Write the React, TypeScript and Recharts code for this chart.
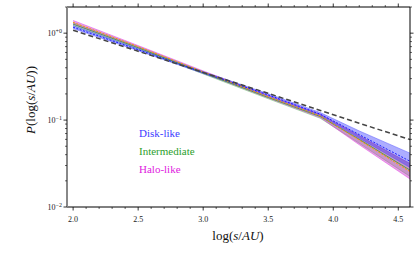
import React from 'react';
import { ComposedChart, Area, Line, XAxis, YAxis } from 'recharts';

// log10(s/AU) sample positions
const logS = [2.0, 2.5, 3.0, 3.5, 3.9, 4.2, 4.6];
// reference power law (black dashed)
const powerLaw = [1.08, 0.62, 0.353, 0.203, 0.129, 0.092, 0.059];
// Disk-like
const diskMid = [1.17, 0.645, 0.352, 0.195, 0.117, 0.068, 0.033];
const diskLo = [1.13, 0.628, 0.343, 0.189, 0.112, 0.062, 0.028];
const diskHi = [1.22, 0.662, 0.361, 0.201, 0.122, 0.075, 0.041];
// Intermediate
const interMid = [1.27, 0.68, 0.35, 0.182, 0.11, 0.06, 0.026];
const interLo = [1.22, 0.66, 0.34, 0.176, 0.105, 0.054, 0.022];
const interHi = [1.32, 0.7, 0.36, 0.188, 0.115, 0.066, 0.031];
// Halo-like
const haloMid = [1.33, 0.7, 0.358, 0.186, 0.112, 0.059, 0.025];
const haloLo = [1.27, 0.68, 0.348, 0.18, 0.107, 0.052, 0.0205];
const haloHi = [1.4, 0.72, 0.368, 0.192, 0.117, 0.066, 0.031];

const xMajor = [2.0, 2.5, 3.0, 3.5, 4.0, 4.5];
const xMinor = [2.1, 2.2, 2.3, 2.4, 2.6, 2.7, 2.8, 2.9, 3.1, 3.2, 3.3, 3.4, 3.6, 3.7, 3.8, 3.9, 4.1, 4.2, 4.3, 4.4];
const yMajor = [0.01, 0.1, 1];
const yMajorLabels = ['−2', '−1', '+0'];
const yMinor = [0.02, 0.03, 0.04, 0.05, 0.06, 0.07, 0.08, 0.09, 0.2, 0.3, 0.4, 0.5, 0.6, 0.7, 0.8, 0.9, 2];

const data = logS.map((x, i) => ({
  x,
  powerLaw: powerLaw[i],
  diskMid: diskMid[i],
  disk: [diskLo[i], diskHi[i]],
  interMid: interMid[i],
  inter: [interLo[i], interHi[i]],
  haloMid: haloMid[i],
  halo: [haloLo[i], haloHi[i]],
}));

const xTicks = [...xMajor, ...xMinor].sort((a, b) => a - b);
const yTicks = [...yMajor, ...yMinor].sort((a, b) => a - b);

const SERIF = '"Liberation Serif", "DejaVu Serif", serif';
const isIn = (arr: number[], v: number) => arr.some((a) => Math.abs(a - v) < 1e-6);

const BottomTick = (props: any) => {
  const { x, y, payload } = props;
  const major = isIn(xMajor, payload.value);
  return (
    <g>
      <line x1={x} x2={x} y1={y} y2={y + (major ? 3.5 : 2)} stroke="#000" strokeWidth={major ? 0.8 : 0.6} />
      {major && (
        <text x={x} y={y + 15} textAnchor="middle" fontSize={8} fontFamily={SERIF} fill="#222">
          {Number(payload.value).toFixed(1)}
        </text>
      )}
    </g>
  );
};

const TopTick = (props: any) => {
  const { x, y, payload } = props;
  const major = isIn(xMajor, payload.value);
  return <line x1={x} x2={x} y1={y} y2={y - (major ? 3.5 : 2)} stroke="#000" strokeWidth={major ? 0.8 : 0.6} />;
};

const LeftTick = (props: any) => {
  const { x, y, payload } = props;
  const idx = yMajor.findIndex((a) => Math.abs(a - payload.value) < 1e-9);
  const major = idx >= 0;
  return (
    <g>
      <line x1={x} x2={x - (major ? 3.5 : 2)} y1={y} y2={y} stroke="#000" strokeWidth={major ? 0.8 : 0.6} />
      {major && (
        <text x={x - 5} y={y + 3} textAnchor="end" fontFamily={SERIF} fill="#222" fontSize={8}>
          10
          <tspan fontSize={6} dy={-3.5}>{yMajorLabels[idx]}</tspan>
        </text>
      )}
    </g>
  );
};

const RightTick = (props: any) => {
  const { x, y, payload } = props;
  const major = isIn(yMajor, payload.value);
  return <line x1={x} x2={x + (major ? 3.5 : 2)} y1={y} y2={y} stroke="#000" strokeWidth={major ? 0.8 : 0.6} />;
};

export default function App() {
  return (
    <div style={{ position: 'absolute', left: 0, top: 0, width: 419, height: 253, background: '#fff' }}>
      <ComposedChart width={419} height={253} data={data} margin={{ top: 0, right: 0, bottom: 0, left: 0 }}>
        <XAxis
          xAxisId="b"
          dataKey="x"
          type="number"
          domain={[1.953, 4.59]}
          allowDataOverflow
          ticks={xTicks}
          interval={0}
          tickSize={0}
          tickMargin={0}
          tickLine={false}
          tick={<BottomTick />}
          height={46}
          axisLine={{ stroke: '#000', strokeWidth: 1 }}
        />
        <XAxis
          xAxisId="t"
          orientation="top"
          dataKey="x"
          type="number"
          domain={[1.953, 4.59]}
          allowDataOverflow
          ticks={xTicks}
          interval={0}
          tickSize={0}
          tickMargin={0}
          tickLine={false}
          tick={<TopTick />}
          height={7}
          axisLine={{ stroke: '#000', strokeWidth: 1 }}
        />
        <YAxis
          yAxisId="l"
          scale="log"
          domain={[0.01, 2]}
          allowDataOverflow
          ticks={yTicks}
          interval={0}
          tickSize={0}
          tickMargin={0}
          tickLine={false}
          tick={<LeftTick />}
          width={67}
          axisLine={{ stroke: '#888', strokeWidth: 2 }}
        />
        <YAxis
          yAxisId="r"
          orientation="right"
          scale="log"
          domain={[0.01, 2]}
          allowDataOverflow
          ticks={yTicks}
          interval={0}
          tickSize={0}
          tickMargin={0}
          tickLine={false}
          tick={<RightTick />}
          width={9}
          axisLine={{ stroke: '#000', strokeWidth: 1 }}
        />
        <Area xAxisId="b" yAxisId="l" dataKey="inter" type="linear" stroke="#66bb66" strokeWidth={0.5} fill="#44aa44" fillOpacity={0.3} isAnimationActive={false} />
        <Area xAxisId="b" yAxisId="l" dataKey="halo" type="linear" stroke="#e040e0" strokeWidth={0.5} fill="#cc33cc" fillOpacity={0.45} isAnimationActive={false} />
        <Area xAxisId="b" yAxisId="l" dataKey="disk" type="linear" stroke="#5555ff" strokeWidth={0.5} fill="#3333ff" fillOpacity={0.4} isAnimationActive={false} />
        <Line xAxisId="b" yAxisId="l" dataKey="interMid" type="linear" stroke="#3a9a3a" strokeWidth={0.8} dot={false} isAnimationActive={false} />
        <Line xAxisId="b" yAxisId="l" dataKey="haloMid" type="linear" stroke="#ff9900" strokeWidth={1} strokeDasharray="2 1.5" dot={false} isAnimationActive={false} />
        <Line xAxisId="b" yAxisId="l" dataKey="diskMid" type="linear" stroke="#1a1aff" strokeWidth={1} strokeDasharray="2 1.5" dot={false} isAnimationActive={false} />
        <Line xAxisId="b" yAxisId="l" dataKey="powerLaw" type="linear" stroke="#444" strokeWidth={1.5} strokeDasharray="5 3" dot={false} isAnimationActive={false} />
      </ComposedChart>
      <svg width={419} height={253} style={{ position: 'absolute', left: 0, top: 0, pointerEvents: 'none' }}>
        <text x={238} y={240} textAnchor="middle" fontFamily={SERIF} fontSize={13} fill="#111">
          log(<tspan fontStyle="italic">s</tspan>/<tspan fontStyle="italic">AU</tspan>)
        </text>
        <text
          x={0}
          y={0}
          transform="translate(35,100) rotate(-90)"
          textAnchor="middle"
          fontFamily={SERIF}
          fontSize={13}
          fill="#111"
        >
          <tspan fontStyle="italic">P</tspan>(log(<tspan fontStyle="italic">s</tspan>/<tspan fontStyle="italic">AU</tspan>))
        </text>
        <text x={139} y={137} fontFamily={SERIF} fontSize={11} fill="#3b3bff">Disk-like</text>
        <text x={139} y={155} fontFamily={SERIF} fontSize={11} fill="#2ca02c">Intermediate</text>
        <text x={139} y={173} fontFamily={SERIF} fontSize={11} fill="#e020e0">Halo-like</text>
      </svg>
    </div>
  );
}
